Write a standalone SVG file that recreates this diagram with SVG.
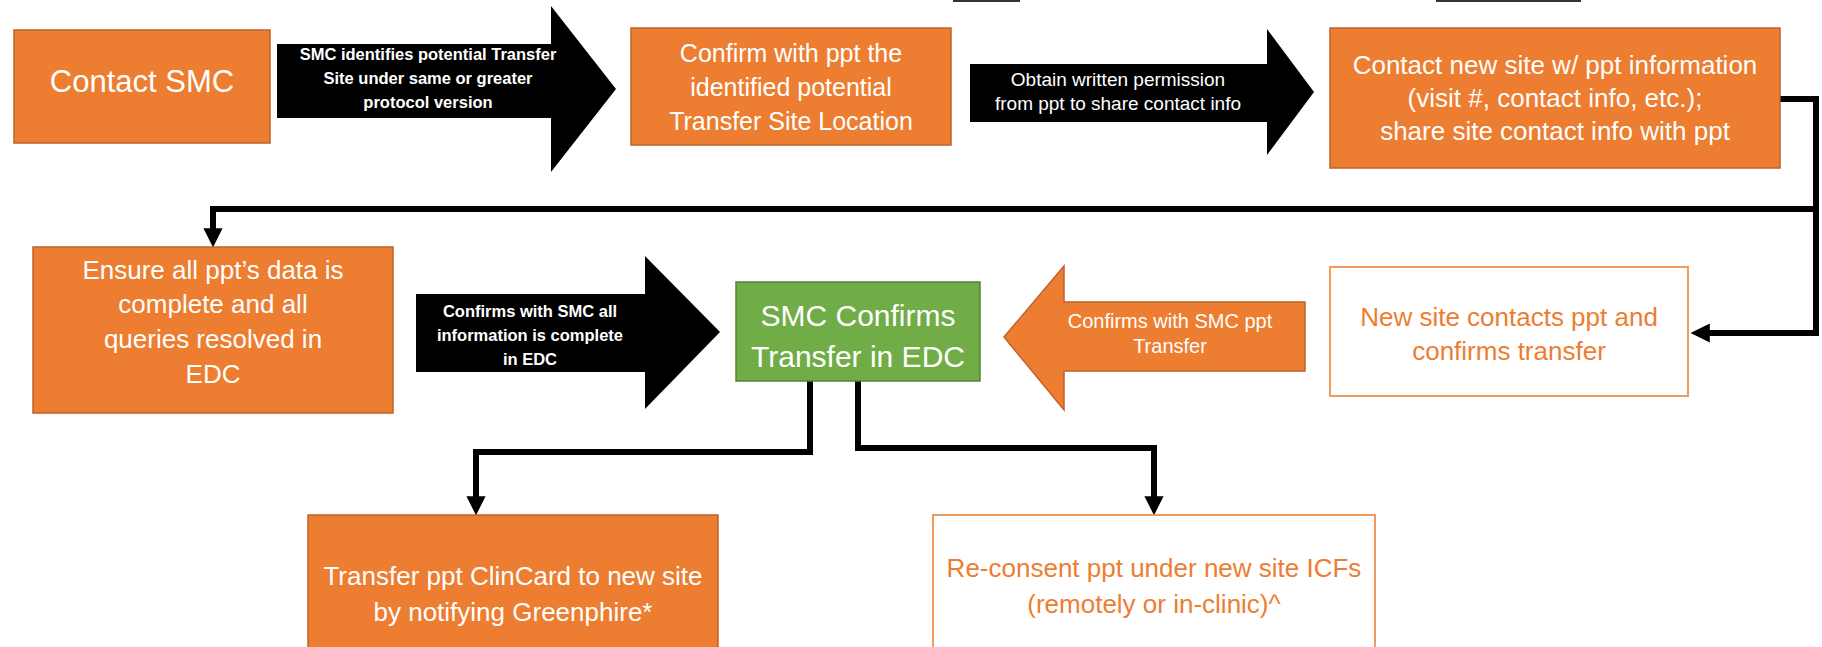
<svg xmlns="http://www.w3.org/2000/svg" width="1822" height="647" viewBox="0 0 1822 647">
<style>
  .orange{fill:#ED7D31;stroke:#C0622A;stroke-width:1.5}
  .white{fill:#FFFFFF;stroke:#F19A5E;stroke-width:2}
  .green{fill:#70AD47;stroke:#548235;stroke-width:1.5}
  .blk{fill:#000000}
  .t{font-family:"Liberation Sans",Arial,sans-serif;text-anchor:middle;dominant-baseline:central}
  .tw{fill:#FFFFFF}
  .to{fill:#ED7D31}
  .b{font-weight:bold}
  .conn{fill:none;stroke:#000000;stroke-width:6;stroke-linejoin:miter}
</style>
<defs>
  <marker id="ah" viewBox="0 0 10 10" refX="2" refY="5" markerWidth="3.2" markerHeight="3.2" orient="auto" markerUnits="strokeWidth">
    <path d="M0,0 L10,5 L0,10 Z" fill="#000"/>
  </marker>
</defs>
<rect width="1822" height="647" fill="#FFFFFF"/>
<g id="top-fragments">
  <line x1="953" y1="1" x2="1020" y2="1" stroke="#333" stroke-width="2"/>
  <line x1="1436" y1="1" x2="1581" y2="1" stroke="#333" stroke-width="2"/>
</g>
<g id="connectors">
  <path class="conn" d="M1780,99 H1816 V333 H1706" marker-end="url(#ah)"/>
  <path class="conn" d="M1816,209 H213 V232" marker-end="url(#ah)"/>
  <path class="conn" d="M810,381 V452 H476 V500" marker-end="url(#ah)"/>
  <path class="conn" d="M858,381 V448 H1154 V500" marker-end="url(#ah)"/>
</g>
<g id="n-contact-smc">
  <rect class="orange" x="14" y="30" width="256" height="113"/>
  <text class="t tw" x="142" y="81" font-size="31">Contact SMC</text>
</g>
<g id="a-identify">
  <polygon class="blk" points="277,44 551,44 551,6 616,89 551,172 551,118 277,118"/>
  <text class="t tw b" font-size="16.5" x="428"><tspan x="428" y="54">SMC identifies potential Transfer</tspan><tspan x="428" y="78">Site under same or greater</tspan><tspan x="428" y="102">protocol version</tspan></text>
</g>
<g id="n-confirm-ppt">
  <rect class="orange" x="631" y="28" width="320" height="117"/>
  <text class="t tw" font-size="25"><tspan x="791" y="53">Confirm with ppt the</tspan><tspan x="791" y="87">identified potential</tspan><tspan x="791" y="121">Transfer Site Location</tspan></text>
</g>
<g id="a-permission">
  <polygon class="blk" points="970,64 1267,64 1267,29 1314,92 1267,155 1267,122 970,122"/>
  <text class="t tw" font-size="19"><tspan x="1118" y="79">Obtain written permission</tspan><tspan x="1118" y="103">from ppt to share contact info</tspan></text>
</g>
<g id="n-contact-new-site">
  <rect class="orange" x="1330" y="28" width="450" height="140"/>
  <text class="t tw" font-size="26"><tspan x="1555" y="65">Contact new site w/ ppt information</tspan><tspan x="1555" y="98">(visit #, contact info, etc.);</tspan><tspan x="1555" y="131">share site contact info with ppt</tspan></text>
</g>
<g id="n-ensure">
  <rect class="orange" x="33" y="247" width="360" height="166"/>
  <text class="t tw" font-size="26"><tspan x="213" y="270">Ensure all ppt’s data is</tspan><tspan x="213" y="304">complete and all</tspan><tspan x="213" y="339">queries resolved in</tspan><tspan x="213" y="374">EDC</tspan></text>
</g>
<g id="a-complete">
  <polygon class="blk" points="416,294 645,294 645,256 720,332 645,409 645,372 416,372"/>
  <text class="t tw b" font-size="16.5"><tspan x="530" y="311">Confirms with SMC all</tspan><tspan x="530" y="335">information is complete</tspan><tspan x="530" y="359">in EDC</tspan></text>
</g>
<g id="n-smc-confirms">
  <rect class="green" x="736" y="282" width="244" height="99"/>
  <text class="t tw" font-size="30"><tspan x="858" y="315">SMC Confirms</tspan><tspan x="858" y="356">Transfer in EDC</tspan></text>
</g>
<g id="a-confirms-transfer">
  <polygon class="orange" points="1004,337 1064,266 1064,302 1305,302 1305,371 1064,371 1064,410"/>
  <text class="t tw" font-size="20"><tspan x="1170" y="321">Confirms with SMC ppt</tspan><tspan x="1170" y="346">Transfer</tspan></text>
</g>
<g id="n-new-site">
  <rect class="white" x="1330" y="267" width="358" height="129"/>
  <text class="t to" font-size="26"><tspan x="1509" y="317">New site contacts ppt and</tspan><tspan x="1509" y="351">confirms transfer</tspan></text>
</g>
<g id="n-clincard">
  <rect class="orange" x="308" y="515" width="410" height="145"/>
  <text class="t tw" font-size="26"><tspan x="513" y="576">Transfer ppt ClinCard to new site</tspan><tspan x="513" y="612">by notifying Greenphire*</tspan></text>
</g>
<g id="n-reconsent">
  <rect class="white" x="933" y="515" width="442" height="145"/>
  <text class="t to" font-size="26"><tspan x="1154" y="568">Re-consent ppt under new site ICFs</tspan><tspan x="1154" y="604">(remotely or in-clinic)^</tspan></text>
</g>
</svg>
